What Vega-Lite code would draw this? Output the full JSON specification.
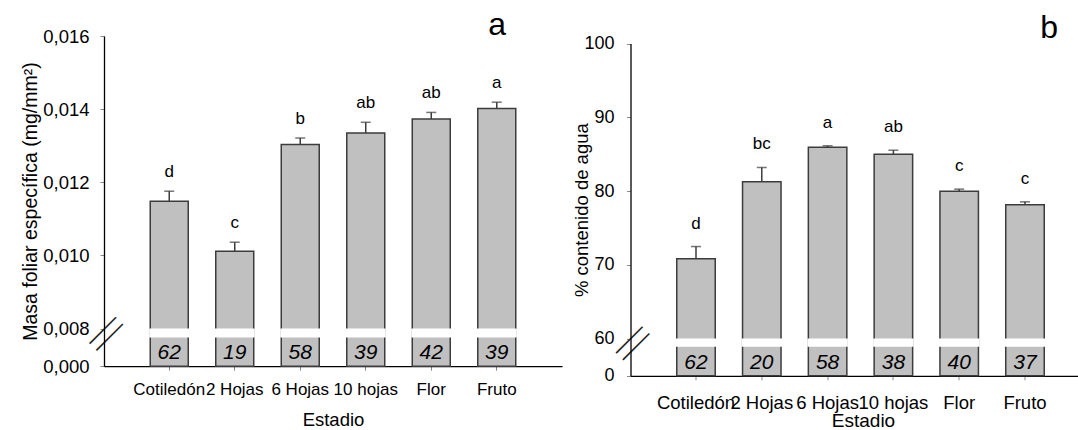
{
  "$schema": "https://vega.github.io/schema/vega-lite/v6.json",
  "padding": {"left": 20, "top": 8, "right": 0, "bottom": 0},
  "bounds": "flush",
  "spacing": 68.5,
  "config": {
    "font": "Liberation Sans",
    "view": {"stroke": null},
    "axis": {"grid": false, "domainColor": "#000000", "domainWidth": 1.3, "labelColor": "#000000", "titleColor": "#000000", "titleFontWeight": "normal", "labelFont": "Liberation Sans", "titleFont": "Liberation Sans", "tickColor": "#8a8a8a", "tickSize": 4},
    "title": {"font": "Liberation Sans", "fontWeight": "normal", "color": "#000000"}
  },
  "datasets": {
    "a": [
      {"estadio": "Cotiledón", "mean": 0.01148, "upper": 0.011755, "letra": "d", "n": 62},
      {"estadio": "2 Hojas", "mean": 0.01011, "upper": 0.01036, "letra": "c", "n": 19},
      {"estadio": "6 Hojas", "mean": 0.01303, "upper": 0.01321, "letra": "b", "n": 58},
      {"estadio": "10 hojas", "mean": 0.01335, "upper": 0.01364, "letra": "ab", "n": 39},
      {"estadio": "Flor", "mean": 0.01373, "upper": 0.01391, "letra": "ab", "n": 42},
      {"estadio": "Fruto", "mean": 0.01402, "upper": 0.01419, "letra": "a", "n": 39}
    ],
    "b": [
      {"estadio": "Cotiledón", "mean": 70.8, "upper": 72.47, "letra": "d", "n": 62},
      {"estadio": "2 Hojas", "mean": 81.25, "upper": 83.19, "letra": "bc", "n": 20},
      {"estadio": "6 Hojas", "mean": 85.94, "upper": 86.13, "letra": "a", "n": 58},
      {"estadio": "10 hojas", "mean": 84.99, "upper": 85.53, "letra": "ab", "n": 38},
      {"estadio": "Flor", "mean": 79.97, "upper": 80.25, "letra": "c", "n": 40},
      {"estadio": "Fruto", "mean": 78.13, "upper": 78.53, "letra": "c", "n": 37}
    ]
  },
  "hconcat": [
    {
      "width": 458,
      "height": 330.2,
      "data": {"name": "a"},
      "title": {"text": "a", "anchor": "end", "frame": "group", "fontSize": 32, "baseline": "alphabetic", "offset": -39.5, "dx": -56},
      "encoding": {
        "x": {
          "field": "estadio", "type": "nominal", "sort": null,
          "scale": {"paddingInner": 0.42, "paddingOuter": 0.706},
          "axis": {"title": "Estadio", "titleFontSize": 18.5, "titlePadding": 13, "labelFontSize": 17, "labelPadding": 11, "labelAngle": 0}
        }
      },
      "layer": [
        {
          "mark": {"type": "bar", "fill": "#c0c0c0", "stroke": "#3c3c3c", "strokeWidth": 1.5},
          "encoding": {
            "y": {
              "field": "mean", "type": "quantitative",
              "scale": {"type": "linear", "domain": [0, 0.008, 0.016], "range": [330.2, 292.5, 0], "nice": false, "zero": false},
              "axis": {
                "title": "Masa foliar específica (mg/mm²)", "titleFontSize": 19.5, "titlePadding": 2,
                "values": [0, 0.00705, 0.008, 0.010, 0.012, 0.014, 0.016],
                "labelExpr": "datum.value == 0.00705 ? '||' : replace(format(datum.value, '.3f'), '.', ',')",
                "labelOverlap": false, "labelFlush": false, "labelBound": false, "labelBaseline": "middle",
                "labelAngle": {"expr": "datum.value == 0.00705 ? 45 : 0"},
                "labelFontSize": {"condition": {"test": "datum.value == 0.00705", "value": 40}, "value": 18.5},
                "labelFont": {"condition": {"test": "datum.value == 0.00705", "value": "Lato"}, "value": "Liberation Sans"},
                "labelFontWeight": {"condition": {"test": "datum.value == 0.00705", "value": 300}, "value": 400},
                "labelColor": {"condition": {"test": "datum.value == 0.00705", "value": "#222222"}, "value": "#000000"},
                "labelAlign": {"condition": {"test": "datum.value == 0.00705", "value": "center"}, "value": "right"},
                "labelPadding": {"condition": {"test": "datum.value == 0.00705", "value": -6}, "value": 11},
                "tickOpacity": {"condition": {"test": "datum.value == 0.00705", "value": 0}, "value": 1}
              }
            },
            "y2": {"datum": 0}
          }
        },
        {
          "mark": {"type": "bar", "fill": "#ffffff", "stroke": "#ffffff", "strokeWidth": 2},
          "encoding": {
            "y": {"datum": 0.007788, "type": "quantitative", "scale": {"type": "linear", "domain": [0, 0.008, 0.016], "range": [330.2, 292.5, 0], "nice": false, "zero": false}},
            "y2": {"datum": 0.0063}
          }
        },
        {
          "mark": {"type": "text", "fontStyle": "italic", "fontSize": 21, "baseline": "middle", "color": "#000000"},
          "encoding": {
            "y": {"datum": 0.0027, "type": "quantitative", "scale": {"type": "linear", "domain": [0, 0.008, 0.016], "range": [330.2, 292.5, 0], "nice": false, "zero": false}},
            "text": {"field": "n", "type": "quantitative"}
          }
        },
        {
          "mark": {"type": "rule", "stroke": "#3c3c3c", "strokeWidth": 1.5},
          "encoding": {
            "y": {"field": "mean", "type": "quantitative", "scale": {"type": "linear", "domain": [0, 0.008, 0.016], "range": [330.2, 292.5, 0], "nice": false, "zero": false}},
            "y2": {"field": "upper"}
          }
        },
        {
          "mark": {"type": "tick", "orient": "horizontal", "size": 10, "thickness": 1.5, "color": "#3c3c3c"},
          "encoding": {
            "y": {"field": "upper", "type": "quantitative", "scale": {"type": "linear", "domain": [0, 0.008, 0.016], "range": [330.2, 292.5, 0], "nice": false, "zero": false}}
          }
        },
        {
          "mark": {"type": "text", "fontSize": 17, "baseline": "middle", "dy": -19, "color": "#000000"},
          "encoding": {
            "y": {"field": "upper", "type": "quantitative", "scale": {"type": "linear", "domain": [0, 0.008, 0.016], "range": [330.2, 292.5, 0], "nice": false, "zero": false}},
            "text": {"field": "letra", "type": "nominal"}
          }
        }
      ]
    },
    {
      "width": 447.5,
      "height": 339.8,
      "data": {"name": "b"},
      "title": {"text": "b", "anchor": "end", "frame": "group", "fontSize": 32, "baseline": "alphabetic", "offset": -35.5, "dx": -20},
      "encoding": {
        "x": {
          "field": "estadio", "type": "nominal", "sort": null,
          "scale": {"paddingInner": 0.415, "paddingOuter": 0.608, "align": 0.578},
          "axis": {"title": "Estadio", "titleFontSize": 19, "titlePadding": -1, "titleX": 232.5, "labelFontSize": 18.5, "labelPadding": 14, "labelAngle": 0}
        }
      },
      "layer": [
        {
          "mark": {"type": "bar", "fill": "#c0c0c0", "stroke": "#3c3c3c", "strokeWidth": 1.5},
          "encoding": {
            "y": {
              "field": "mean", "type": "quantitative",
              "scale": {"type": "linear", "domain": [0, 60, 100], "range": [339.8, 302.5, 7.5], "nice": false, "zero": false},
              "axis": {
                "title": "% contenido de agua", "titleFontSize": 18.5, "titlePadding": -8,
                "values": [0, 53.6, 60, 70, 80, 90, 100],
                "labelExpr": "datum.value == 53.6 ? '||' : datum.label",
                "labelOverlap": false, "labelFlush": false, "labelBound": false, "labelBaseline": "middle",
                "labelAngle": {"expr": "datum.value == 53.6 ? 45 : 0"},
                "labelFontSize": {"condition": {"test": "datum.value == 53.6", "value": 40}, "value": 18},
                "labelFont": {"condition": {"test": "datum.value == 53.6", "value": "Lato"}, "value": "Liberation Sans"},
                "labelFontWeight": {"condition": {"test": "datum.value == 53.6", "value": 300}, "value": 400},
                "labelColor": {"condition": {"test": "datum.value == 53.6", "value": "#222222"}, "value": "#000000"},
                "labelAlign": {"condition": {"test": "datum.value == 53.6", "value": "center"}, "value": "right"},
                "labelPadding": {"condition": {"test": "datum.value == 53.6", "value": -6}, "value": 12.5},
                "tickOpacity": {"condition": {"test": "datum.value == 53.6", "value": 0}, "value": 1}
              }
            },
            "y2": {"datum": 0}
          }
        },
        {
          "mark": {"type": "bar", "fill": "#ffffff", "stroke": "#ffffff", "strokeWidth": 2},
          "encoding": {
            "y": {"datum": 58.39, "type": "quantitative", "scale": {"type": "linear", "domain": [0, 60, 100], "range": [339.8, 302.5, 7.5], "nice": false, "zero": false}},
            "y2": {"datum": 48.26}
          }
        },
        {
          "mark": {"type": "text", "fontStyle": "italic", "fontSize": 21, "baseline": "middle", "color": "#000000"},
          "encoding": {
            "y": {"datum": 19.8, "type": "quantitative", "scale": {"type": "linear", "domain": [0, 60, 100], "range": [339.8, 302.5, 7.5], "nice": false, "zero": false}},
            "text": {"field": "n", "type": "quantitative"}
          }
        },
        {
          "mark": {"type": "rule", "stroke": "#3c3c3c", "strokeWidth": 1.5},
          "encoding": {
            "y": {"field": "mean", "type": "quantitative", "scale": {"type": "linear", "domain": [0, 60, 100], "range": [339.8, 302.5, 7.5], "nice": false, "zero": false}},
            "y2": {"field": "upper"}
          }
        },
        {
          "mark": {"type": "tick", "orient": "horizontal", "size": 10, "thickness": 1.5, "color": "#3c3c3c"},
          "encoding": {
            "y": {"field": "upper", "type": "quantitative", "scale": {"type": "linear", "domain": [0, 60, 100], "range": [339.8, 302.5, 7.5], "nice": false, "zero": false}}
          }
        },
        {
          "mark": {"type": "text", "fontSize": 17, "baseline": "middle", "dy": -23, "color": "#000000"},
          "encoding": {
            "y": {"field": "upper", "type": "quantitative", "scale": {"type": "linear", "domain": [0, 60, 100], "range": [339.8, 302.5, 7.5], "nice": false, "zero": false}},
            "text": {"field": "letra", "type": "nominal"}
          }
        }
      ]
    }
  ]
}
